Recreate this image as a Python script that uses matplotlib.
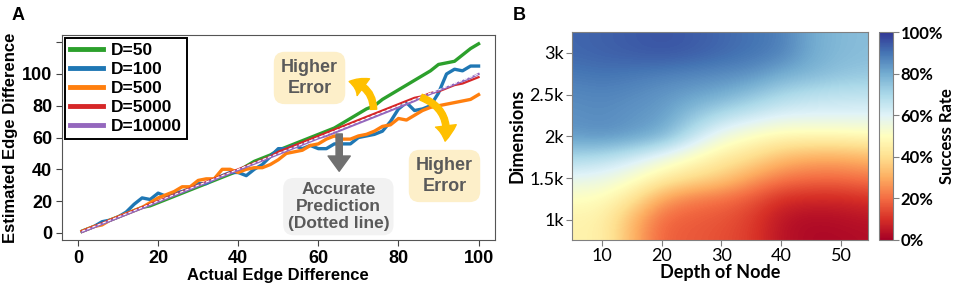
import numpy as np
import matplotlib
matplotlib.use("Agg")
import matplotlib.pyplot as plt
from matplotlib.patches import FancyArrowPatch

plt.rcParams['font.family'] = ['Liberation Sans', 'DejaVu Sans']

# ---- panel A data: estimated vs actual edge difference ----
actual = [1, 2, 4, 6, 8, 10, 12, 14, 16, 18, 20, 22, 24, 26, 28, 30, 32, 34, 36, 38, 40,
          42, 44, 46, 48, 50, 52, 54, 56, 58, 60, 62, 64, 66, 68, 70, 72, 74, 76, 78, 80,
          82, 84, 86, 88, 90, 92, 94, 96, 98, 100]
d50 = [1, 2, 4, 6, 8, 10, 12, 14, 16, 17, 19, 21, 23, 25, 27, 29, 31, 33, 35, 37, 39,
       42, 45, 47, 49, 52, 54, 56, 58, 60, 62, 64, 66, 69, 72, 75, 78, 80, 84, 87, 90,
       93, 96, 99, 102, 106, 107, 108, 112, 116, 119]
d100 = [1, 2, 4, 7, 8, 10, 13, 18, 22, 21, 25, 23, 25, 26, 28, 31, 31, 34, 36, 38, 38,
        36, 40, 43, 48, 53, 53, 55, 53, 55, 53, 53, 56, 56, 56, 60, 61, 62, 64, 70, 78,
        82, 77, 78, 80, 88, 100, 103, 102, 105, 105]
d500 = [1, 2, 4, 5, 8, 10, 12, 14, 16, 19, 22, 24, 26, 29, 29, 33, 34, 34, 40, 40, 38,
        40, 41, 41, 43, 46, 50, 51, 52, 55, 56, 59, 61, 59, 59, 61, 62, 64, 67, 68, 72,
        71, 74, 77, 79, 80, 81, 82, 83, 84, 87]
d5000 = [1, 2, 4, 6, 8, 10, 12, 14, 16, 18, 20, 22, 24, 26, 28, 30, 32, 34, 36, 38, 40,
         42, 44, 46, 48, 51, 53, 55, 57, 59, 61, 63, 65, 67, 69, 71, 73, 75, 77, 79, 81,
         83, 85, 86, 88, 89, 91, 93, 94, 96, 98]
d10000 = [0.5, 1.5, 3.5, 5.5, 7.5, 9.5, 11.5, 13.5, 15.5, 17.5, 19.5, 21.5, 23.5, 25.5,
          27.5, 29.5, 31.5, 33.5, 35.5, 37.5, 39.5, 41.5, 43.5, 45.5, 47.5, 49.5, 51.5,
          53.5, 55.5, 57.5, 59.5, 61, 63, 65, 67, 69, 71, 73, 75, 77, 79, 81, 83, 85.5,
          87.5, 89.5, 91.5, 93.5, 95.5, 97.5, 100]
series_labels = ['D=50', 'D=100', 'D=500', 'D=5000', 'D=10000']
series_colors = ['#2ca02c', '#1f77b4', '#ff7f0e', '#d62728', '#9467bd']

# ---- panel B data: success rate (%) by depth of node and dimensions ----
depth = [5, 10, 15, 20, 25, 30, 35, 40, 45, 50, 55]
dims = [750, 1000, 1250, 1500, 1750, 2000, 2250, 2500, 2750, 3000, 3250]
success = [
    [46, 46, 32, 18, 17, 15, 12, 4, 2, 2, 3],
    [46, 46, 32, 19, 17, 16, 12, 4, 2, 3, 4],
    [50, 49, 42, 28, 22, 20, 16, 9, 8, 8, 10],
    [58, 57, 52, 45, 40, 36, 28, 22, 20, 20, 22],
    [70, 68, 63, 56, 50, 44, 40, 33, 30, 30, 32],
    [83, 85, 83, 79, 66, 55, 50, 47, 47, 47, 48],
    [85, 86, 84, 83, 75, 68, 64, 60, 60, 60, 60],
    [86, 87, 86, 84, 82, 80, 75, 70, 67, 66, 66],
    [89, 90, 89, 88, 87, 86, 85, 80, 78, 75, 74],
    [92, 93, 94, 95, 94, 92, 90, 88, 80, 77, 76],
    [92, 93, 94, 95, 94, 92, 90, 88, 80, 77, 76],
]

fig = plt.figure(figsize=(9.57, 2.87), dpi=100)

# ---------------- panel A ----------------
ax = fig.add_axes([0.0648, 0.1638, 0.452, 0.714])
all_series = [d50, d100, d500, d5000, d10000]
for i, (ys, lab, col) in enumerate(zip(all_series, series_labels, series_colors)):
    lw = 2.4 if i < 3 else 1.6
    ax.plot(actual, ys, color=col, lw=lw, label=lab, zorder=2 + i)
ax.plot(actual, actual, color='white', lw=0.8, ls=(0, (3, 2)), zorder=8)

ax.set_xlim(-4, 104)
ax.set_ylim(-4.5, 124.5)
ax.set_xticks([0, 20, 40, 60, 80, 100])
ax.set_yticks([0, 20, 40, 60, 80, 100, 120])
ax.set_yticklabels(['0', '20', '40', '60', '80', '100', ''])
for lab in ax.get_xticklabels() + ax.get_yticklabels():
    lab.set_fontweight('bold')
    lab.set_fontsize(13)
ax.tick_params(length=4, color='#444444', pad=3)
for s in ax.spines.values():
    s.set_color('#555555')
ax.set_xlabel('Actual Edge Difference', fontsize=12, fontweight='bold', labelpad=1)
ax.set_ylabel('Estimated Edge Difference', fontsize=12, fontweight='bold', labelpad=3)

leg = ax.legend(loc='upper left', prop={'weight': 'bold', 'size': 12.5},
                frameon=True, fancybox=False, edgecolor='black', framealpha=1,
                borderaxespad=0.15, handlelength=1.9, labelspacing=0.22,
                handletextpad=0.45, borderpad=0.3)
leg.get_frame().set_linewidth(1.4)
for ln in leg.get_lines():
    ln.set_linewidth(3.5)

txt_col = '#5a5a5a'
ax.text(57.8, 97.5, 'Higher\nError', ha='center', va='center', fontsize=13,
        fontweight='bold', color=txt_col, linespacing=1.3, zorder=10,
        bbox=dict(boxstyle='round,pad=0.4,rounding_size=0.6', fc='#fdefc9', ec='none'))
ax.text(91.5, 35.8, 'Higher\nError', ha='center', va='center', fontsize=13,
        fontweight='bold', color=txt_col, linespacing=1.3, zorder=10,
        bbox=dict(boxstyle='round,pad=0.4,rounding_size=0.6', fc='#fdefc9', ec='none'))
ax.text(65, 16.5, 'Accurate\nPrediction\n(Dotted line)', ha='center', va='center',
        fontsize=12.5, fontweight='bold', color=txt_col, linespacing=1.15, zorder=10,
        bbox=dict(boxstyle='round,pad=0.25,rounding_size=0.6', fc='#f2f2f2', ec='none'))

ax.add_patch(FancyArrowPatch((65.2, 64), (65.2, 37),
                             arrowstyle='simple,head_width=1.6,head_length=1.1,tail_width=0.45',
                             mutation_scale=10, color='#707070', zorder=9))
ax.add_patch(FancyArrowPatch((73.8, 76), (67.0, 95.5), connectionstyle='arc3,rad=0.45',
                             arrowstyle='simple,head_width=1.5,head_length=1.1,tail_width=0.45',
                             mutation_scale=10, color='#ffc000', zorder=9))
ax.add_patch(FancyArrowPatch((85, 86), (91.5, 56), connectionstyle='arc3,rad=-0.45',
                             arrowstyle='simple,head_width=1.5,head_length=1.1,tail_width=0.45',
                             mutation_scale=10, color='#ffc000', zorder=9))

fig.text(0.012, 0.93, 'A', fontsize=13, fontweight='bold')

# ---------------- panel B ----------------
bfont = ['Lato', 'DejaVu Sans']
axb = fig.add_axes([0.5977, 0.1638, 0.3093, 0.7247])
grid = np.array(success, dtype=float)
im = axb.imshow(grid, origin='lower', aspect='auto', cmap='RdYlBu',
                vmin=0, vmax=100, interpolation='bicubic',
                extent=(depth[0] - 2.5, depth[-1] + 2.5, dims[0] - 125, dims[-1] + 125))
axb.set_xlim(5, 54.5)
axb.set_ylim(760, 3250)
axb.set_xticks([10, 20, 30, 40, 50])
axb.set_yticks([1000, 1500, 2000, 2500, 3000])
axb.set_yticklabels(['1k', '1.5k', '2k', '2.5k', '3k'])
for lab in axb.get_xticklabels() + axb.get_yticklabels():
    lab.set_family(bfont)
    lab.set_fontsize(13)
axb.tick_params(length=4, color='#808080', pad=2)
for s in axb.spines.values():
    s.set_color('#808080')
axb.set_xlabel('Depth of Node', family=bfont, fontsize=13, fontweight='bold', labelpad=0)
axb.set_ylabel('Dimensions', family=bfont, fontsize=13, fontweight='bold', labelpad=3)

cax = fig.add_axes([0.9185, 0.1638, 0.0146, 0.7247])
cb = fig.colorbar(im, cax=cax, ticks=[0, 20, 40, 60, 80, 100])
cb.ax.set_yticklabels(['0%', '20%', '40%', '60%', '80%', '100%'])
for lab in cb.ax.get_yticklabels():
    lab.set_family(bfont)
    lab.set_fontsize(12)
    lab.set_fontweight('bold')
cb.ax.tick_params(length=4, color='#808080', pad=1.5)
cb.outline.set_edgecolor('#808080')
cax.text(4.85, 0.5, 'Success Rate', transform=cax.transAxes, rotation=90,
         ha='center', va='center', family=bfont, fontsize=12, fontweight='bold')

fig.text(0.536, 0.93, 'B', fontsize=13, fontweight='bold')

fig.savefig('out.png', dpi=100)
